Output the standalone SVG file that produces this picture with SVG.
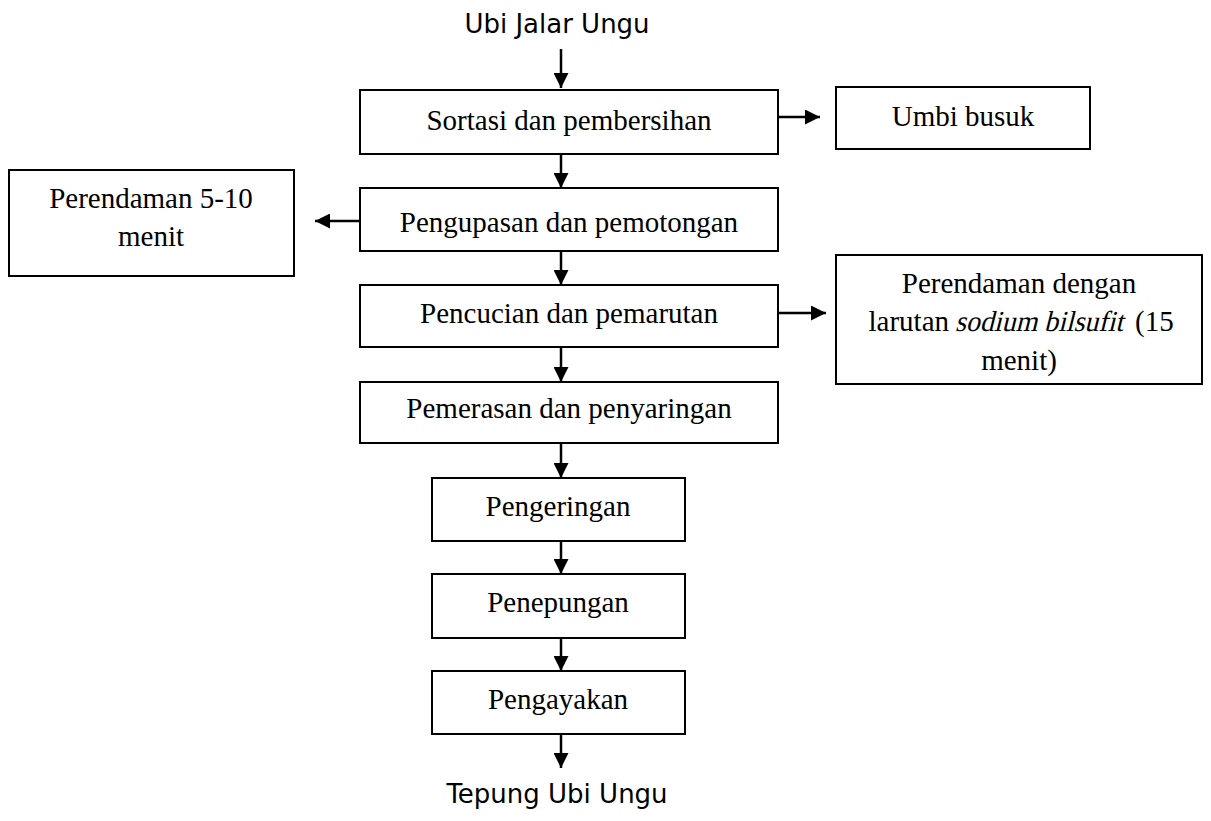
<svg xmlns="http://www.w3.org/2000/svg" width="1211" height="821" viewBox="0 0 1211 821">
<defs>
<style>
.box{fill:#fff;stroke:#000;stroke-width:2}
.t{font-family:"Liberation Serif","Times New Roman",serif;font-size:29px;fill:#000;text-anchor:middle}
.s{font-family:"DejaVu Sans",Tahoma,sans-serif;font-size:26px;fill:#000;text-anchor:middle}
.c{stroke:#000;stroke-width:2.5;fill:none}
</style>
<marker id="ah" markerWidth="15" markerHeight="15" refX="10" refY="5" orient="auto" markerUnits="userSpaceOnUse" viewBox="0 0 10 10">
<path d="M0,0 L10,5 L0,10 Z" fill="#000"/>
</marker>
</defs>
<rect width="1211" height="821" fill="#fff"/>
<g id="connectors">
<line class="c" x1="561" y1="49" x2="561" y2="88" marker-end="url(#ah)"/>
<line class="c" x1="561" y1="154" x2="561" y2="188" marker-end="url(#ah)"/>
<line class="c" x1="778" y1="117" x2="820" y2="117" marker-end="url(#ah)"/>
<line class="c" x1="360" y1="221" x2="315" y2="221" marker-end="url(#ah)"/>
<line class="c" x1="561" y1="251" x2="561" y2="285" marker-end="url(#ah)"/>
<line class="c" x1="778" y1="313" x2="826" y2="313" marker-end="url(#ah)"/>
<line class="c" x1="561" y1="347" x2="561" y2="382" marker-end="url(#ah)"/>
<line class="c" x1="561" y1="443" x2="561" y2="478" marker-end="url(#ah)"/>
<line class="c" x1="561" y1="541" x2="561" y2="574" marker-end="url(#ah)"/>
<line class="c" x1="561" y1="638" x2="561" y2="671" marker-end="url(#ah)"/>
<line class="c" x1="561" y1="734" x2="561" y2="768" marker-end="url(#ah)"/>
</g>
<g id="start"><text class="s" x="557" y="33">Ubi Jalar Ungu</text></g>
<g id="sortasi"><rect class="box" x="360" y="90" width="418" height="64"/><text class="t" x="569" y="130">Sortasi dan pembersihan</text></g>
<g id="umbi"><rect class="box" x="836" y="87" width="254" height="62"/><text class="t" x="963" y="126">Umbi busuk</text></g>
<g id="pengupasan"><rect class="box" x="360" y="188" width="418" height="63"/><text class="t" x="569" y="232">Pengupasan dan pemotongan</text></g>
<g id="perendaman1"><rect class="box" x="9" y="170" width="285" height="106"/><text class="t" x="151" y="208">Perendaman 5-10</text><text class="t" x="151" y="246">menit</text></g>
<g id="pencucian"><rect class="box" x="360" y="285" width="418" height="62"/><text class="t" x="569" y="323">Pencucian dan pemarutan</text></g>
<g id="perendaman2"><rect class="box" x="836" y="255" width="366" height="129"/>
<text class="t" x="1019" y="293">Perendaman dengan</text>
<text class="t" x="949" y="331" style="text-anchor:end">larutan</text>
<text class="t" transform="translate(955,331) skewX(-14)" x="0" y="0" style="text-anchor:start" textLength="168" lengthAdjust="spacingAndGlyphs">sodium bilsufit</text>
<text class="t" x="1135" y="331" style="text-anchor:start">(15</text>
<text class="t" x="1019" y="370">menit)</text></g>
<g id="pemerasan"><rect class="box" x="360" y="382" width="418" height="61"/><text class="t" x="569" y="418">Pemerasan dan penyaringan</text></g>
<g id="pengeringan"><rect class="box" x="432" y="478" width="253" height="63"/><text class="t" x="558" y="516">Pengeringan</text></g>
<g id="penepungan"><rect class="box" x="432" y="574" width="253" height="64"/><text class="t" x="558" y="612">Penepungan</text></g>
<g id="pengayakan"><rect class="box" x="432" y="671" width="253" height="63"/><text class="t" x="558" y="709">Pengayakan</text></g>
<g id="end"><text class="s" x="557" y="803">Tepung Ubi Ungu</text></g>
</svg>
